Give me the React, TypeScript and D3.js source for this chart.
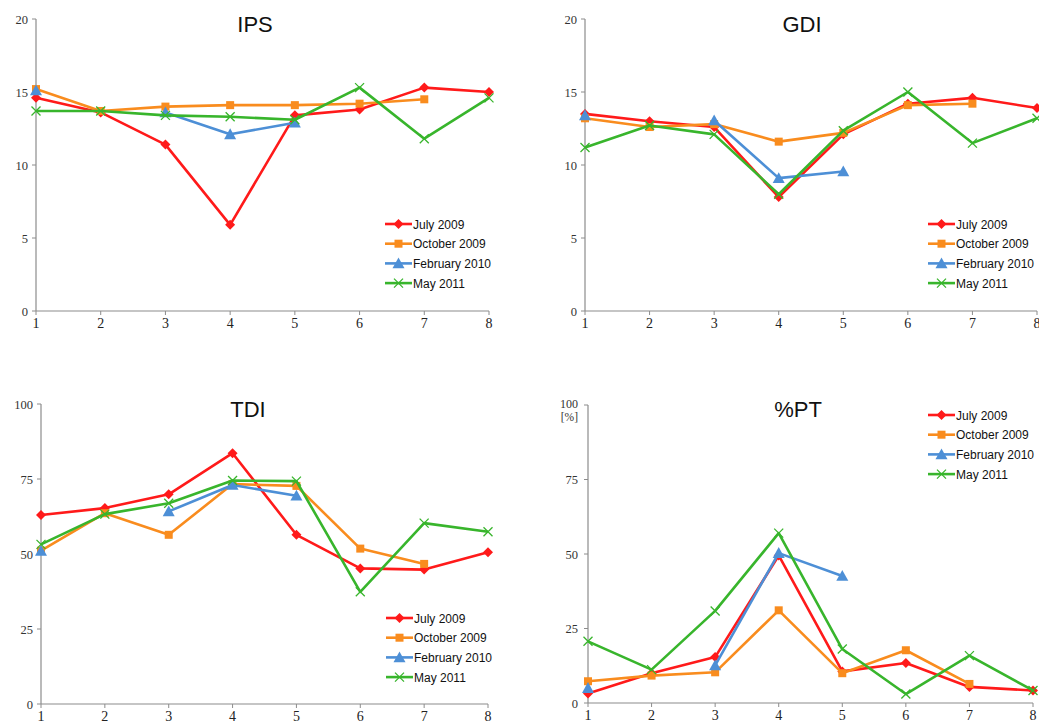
import React from "react";
import * as d3 from "d3";

const xCats = [1, 2, 3, 4, 5, 6, 7, 8];
const seriesNames = ["July 2009", "October 2009", "February 2010", "May 2011"];
const seriesColors = ["#ff1a1a", "#f98c1e", "#4d8fd6", "#38b52c"];
const seriesMarkers = ["diamond", "square", "triangle", "cross"];

type V = number | null;

const ipsJuly: V[] = [14.6, 13.6, 11.4, 5.9, 13.4, 13.8, 15.3, 15.0];
const ipsOct: V[] = [15.2, 13.7, 14.0, 14.1, 14.1, 14.2, 14.5, null];
const ipsFeb: V[] = [15.1, null, 13.6, 12.1, 12.9, null, null, null];
const ipsMay: V[] = [13.7, 13.7, 13.4, 13.3, 13.1, 15.3, 11.8, 14.6];

const gdiJuly: V[] = [13.5, 13.0, 12.6, 7.8, 12.1, 14.2, 14.6, 13.9];
const gdiOct: V[] = [13.2, 12.6, 12.8, 11.6, 12.2, 14.1, 14.2, null];
const gdiFeb: V[] = [13.4, null, 13.05, 9.1, 9.55, null, null, null];
const gdiMay: V[] = [11.2, 12.7, 12.1, 8.0, 12.35, 15.0, 11.5, 13.2];

const tdiJuly: V[] = [63.0, 65.3, 69.9, 83.6, 56.4, 45.2, 44.8, 50.6];
const tdiOct: V[] = [51.1, 63.6, 56.4, 73.3, 72.7, 51.8, 46.7, null];
const tdiFeb: V[] = [51.0, null, 64.2, 73.0, 69.4, null, null, null];
const tdiMay: V[] = [53.2, 63.3, 66.9, 74.5, 74.3, 37.4, 60.3, 57.4];

const ptJuly: V[] = [3.2, 10.0, 15.4, 49.5, 10.6, 13.4, 5.4, 4.2];
const ptOct: V[] = [7.3, 9.2, 10.3, 31.1, 10.0, 17.7, 6.4, null];
const ptFeb: V[] = [5.0, null, 12.6, 50.3, 42.6, null, null, null];
const ptMay: V[] = [20.7, 11.2, 30.9, 57.0, 18.1, 3.0, 15.9, 4.2];

const ticks20 = [0, 5, 10, 15, 20];
const ticks100 = [0, 25, 50, 75, 100];

interface Panel {
  title: string;
  data: V[][];
  ymax: number;
  yTicks: number[];
  x0: number; x1: number; y0: number; y1: number;
  titleX: number; titleY: number;
  legX: number; legY: number;
  unit?: string;
}

const panels: Panel[] = [
  { title: "IPS", data: [ipsJuly, ipsOct, ipsFeb, ipsMay], ymax: 20, yTicks: ticks20,
    x0: 36, x1: 489, y0: 311, y1: 19, titleX: 255, titleY: 32, legX: 385, legY: 224 },
  { title: "GDI", data: [gdiJuly, gdiOct, gdiFeb, gdiMay], ymax: 20, yTicks: ticks20,
    x0: 585, x1: 1037, y0: 311, y1: 19, titleX: 802, titleY: 32, legX: 928, legY: 224 },
  { title: "TDI", data: [tdiJuly, tdiOct, tdiFeb, tdiMay], ymax: 100, yTicks: ticks100,
    x0: 41, x1: 488, y0: 704, y1: 404, titleX: 248, titleY: 417, legX: 386, legY: 618 },
  { title: "%PT", data: [ptJuly, ptOct, ptFeb, ptMay], ymax: 100, yTicks: ticks100,
    x0: 588, x1: 1033, y0: 703, y1: 405, titleX: 798, titleY: 417, legX: 928, legY: 415, unit: "[%]" },
];

function Marker({ kind, x, y, color }: { kind: string; x: number; y: number; color: string }) {
  if (kind === "diamond") {
    const s = 5;
    return <path d={`M${x},${y - s}L${x + s},${y}L${x},${y + s}L${x - s},${y}Z`} fill={color} />;
  }
  if (kind === "square") {
    const s = 4;
    return <rect x={x - s} y={y - s} width={2 * s} height={2 * s} fill={color} />;
  }
  if (kind === "triangle") {
    const s = 6;
    return <path d={`M${x},${y - s}L${x + s},${y + s * 0.8}L${x - s},${y + s * 0.8}Z`} fill={color} />;
  }
  const s = 4.5;
  return (
    <path d={`M${x - s},${y - s}L${x + s},${y + s}M${x - s},${y + s}L${x + s},${y - s}`}
      stroke={color} strokeWidth={1.3} fill="none" />
  );
}

const serif = "Liberation Serif, Times New Roman, serif";
const sans = "Liberation Sans, Arial, sans-serif";

function ChartPanel({ p }: { p: Panel }) {
  const x = d3.scaleLinear().domain([1, 8]).range([p.x0, p.x1]);
  const y = d3.scaleLinear().domain([0, p.ymax]).range([p.y0, p.y1]);
  const line = d3.line<V>()
    .defined((d) => d !== null)
    .x((_, i) => x(xCats[i]))
    .y((d) => y(d as number));
  const axisColor = "#8c8c8c";
  return (
    <g>
      <text x={p.titleX} y={p.titleY} textAnchor="middle" fontFamily={sans}
        fontSize={22} fill="#111">{p.title}</text>
      <line x1={p.x0} x2={p.x0} y1={p.y1} y2={p.y0} stroke={axisColor} strokeWidth={1.2} />
      <line x1={p.x0} x2={p.x1} y1={p.y0} y2={p.y0} stroke={axisColor} strokeWidth={1.2} />
      {p.yTicks.map((t) => (
        <g key={"y" + t}>
          <line x1={p.x0 - 4} x2={p.x0} y1={y(t)} y2={y(t)} stroke={axisColor} strokeWidth={1} />
          <text x={p.x0 - (p.unit ? 10 : 8)} y={y(t) + (p.unit && t === p.ymax ? 2.5 : 4.5)} textAnchor="end"
            fontFamily={serif} fontSize={p.unit && t === p.ymax ? 12 : 12.5} fill="#333">{t}</text>
        </g>
      ))}
      {p.unit && (
        <text x={p.x0 - 10} y={y(p.ymax) + 16} textAnchor="end"
          fontFamily={serif} fontSize={11.5} fill="#333">{p.unit}</text>
      )}
      {xCats.map((c) => (
        <g key={"x" + c}>
          <line x1={x(c)} x2={x(c)} y1={p.y0} y2={p.y0 + 4} stroke={axisColor} strokeWidth={1} />
          <text x={x(c)} y={p.y0 + 17} textAnchor="middle"
            fontFamily={serif} fontSize={14} fill="#222">{c}</text>
        </g>
      ))}
      {p.data.map((vals, si) => (
        <g key={"s" + si}>
          <path d={line(vals) || ""} fill="none" stroke={seriesColors[si]} strokeWidth={2.6}
            strokeLinejoin="round" />
          {vals.map((v, i) => v === null ? null : (
            <Marker key={i} kind={seriesMarkers[si]} x={x(xCats[i])} y={y(v)} color={seriesColors[si]} />
          ))}
        </g>
      ))}
      {seriesNames.map((n, si) => {
        const ly = p.legY + si * 19.7;
        return (
          <g key={"l" + si}>
            <line x1={p.legX} x2={p.legX + 27} y1={ly} y2={ly} stroke={seriesColors[si]} strokeWidth={2.6} />
            <Marker kind={seriesMarkers[si]} x={p.legX + 13.5} y={ly} color={seriesColors[si]} />
            <text x={p.legX + 28} y={ly + 4.5} fontFamily={sans} fontSize={12}
              fill="#111">{n}</text>
          </g>
        );
      })}
    </g>
  );
}

export default function App() {
  return (
    <svg width={1039} height={726} style={{ position: "absolute", left: 0, top: 0, background: "#fff" }}>
      <rect width={1039} height={726} fill="#fff" />
      {panels.map((p) => <ChartPanel key={p.title} p={p} />)}
    </svg>
  );
}
